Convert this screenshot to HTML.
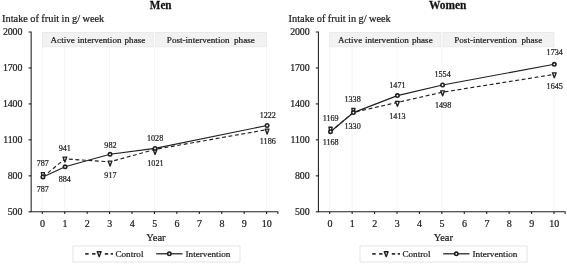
<!DOCTYPE html>
<html><head><meta charset="utf-8"><title>Fruit intake</title>
<style>
html,body{margin:0;padding:0;background:#fff}
svg{display:block}
.t{font-family:"Liberation Serif",serif;fill:#1c1c1c;stroke:#1c1c1c;stroke-width:0.22px}
.b{font-weight:bold;fill:#111}
</style></head><body>
<svg width="567" height="264" viewBox="0 0 567 264">
<rect width="567" height="264" fill="#fff"/>
<g><text transform="translate(160.7 9.4) scale(1.0 1.16)" class="t b" text-anchor="middle" font-size="11.2">Men</text>
<text transform="translate(2.0 21.9) scale(1 1.06)" class="t" font-size="10.4" word-spacing="-0.25">Intake of fruit in g/ week</text>
<line x1="42.30" y1="47.0" x2="42.30" y2="211.8" stroke="#f3f3f3" stroke-width="0.8"/>
<line x1="64.73" y1="47.0" x2="64.73" y2="211.8" stroke="#f3f3f3" stroke-width="0.8"/>
<line x1="109.59" y1="47.0" x2="109.59" y2="211.8" stroke="#f3f3f3" stroke-width="0.8"/>
<line x1="154.45" y1="47.0" x2="154.45" y2="211.8" stroke="#f3f3f3" stroke-width="0.8"/>
<line x1="266.60" y1="47.0" x2="266.60" y2="211.8" stroke="#f3f3f3" stroke-width="0.8"/>
<rect x="42.30" y="32.3" width="111.25" height="14.6" fill="#f2f2f2" stroke="#e3e3e3" stroke-width="0.6"/>
<rect x="155.55" y="32.3" width="111.05" height="14.6" fill="#f2f2f2" stroke="#e3e3e3" stroke-width="0.6"/>
<text x="97.92" y="42.6" class="t" text-anchor="middle" font-size="9.1" word-spacing="0.5">Active intervention<tspan dx="0.3"> phase</tspan></text>
<text x="210.83" y="42.6" class="t" text-anchor="middle" font-size="9.1" word-spacing="2.3">Post-intervention phase</text>
<path d="M28.55 32.0H31.15V211.8H277.88V214.10" fill="none" stroke="#1f1f1f" stroke-width="1.05"/>
<line x1="28.55" y1="67.96" x2="31.15" y2="67.96" stroke="#1f1f1f" stroke-width="1.1"/>
<line x1="28.55" y1="103.92" x2="31.15" y2="103.92" stroke="#1f1f1f" stroke-width="1.1"/>
<line x1="28.55" y1="139.88" x2="31.15" y2="139.88" stroke="#1f1f1f" stroke-width="1.1"/>
<line x1="28.55" y1="175.84" x2="31.15" y2="175.84" stroke="#1f1f1f" stroke-width="1.1"/>
<line x1="28.55" y1="211.80" x2="31.15" y2="211.80" stroke="#1f1f1f" stroke-width="1.1"/>
<line x1="42.30" y1="211.8" x2="42.30" y2="214.10" stroke="#1f1f1f" stroke-width="1.1"/>
<line x1="64.73" y1="211.8" x2="64.73" y2="214.10" stroke="#1f1f1f" stroke-width="1.1"/>
<line x1="87.16" y1="211.8" x2="87.16" y2="214.10" stroke="#1f1f1f" stroke-width="1.1"/>
<line x1="109.59" y1="211.8" x2="109.59" y2="214.10" stroke="#1f1f1f" stroke-width="1.1"/>
<line x1="132.02" y1="211.8" x2="132.02" y2="214.10" stroke="#1f1f1f" stroke-width="1.1"/>
<line x1="154.45" y1="211.8" x2="154.45" y2="214.10" stroke="#1f1f1f" stroke-width="1.1"/>
<line x1="176.88" y1="211.8" x2="176.88" y2="214.10" stroke="#1f1f1f" stroke-width="1.1"/>
<line x1="199.31" y1="211.8" x2="199.31" y2="214.10" stroke="#1f1f1f" stroke-width="1.1"/>
<line x1="221.74" y1="211.8" x2="221.74" y2="214.10" stroke="#1f1f1f" stroke-width="1.1"/>
<line x1="244.17" y1="211.8" x2="244.17" y2="214.10" stroke="#1f1f1f" stroke-width="1.1"/>
<line x1="266.60" y1="211.8" x2="266.60" y2="214.10" stroke="#1f1f1f" stroke-width="1.1"/>
<text x="22.25" y="35.00" class="t" text-anchor="end" font-size="9.9" letter-spacing="-0.1">2000</text>
<text x="22.25" y="70.96" class="t" text-anchor="end" font-size="9.9" letter-spacing="-0.1">1700</text>
<text x="22.25" y="106.92" class="t" text-anchor="end" font-size="9.9" letter-spacing="-0.1">1400</text>
<text x="22.25" y="142.88" class="t" text-anchor="end" font-size="9.9" letter-spacing="-0.1">1100</text>
<text x="22.25" y="178.84" class="t" text-anchor="end" font-size="9.9" letter-spacing="-0.1">800</text>
<text x="22.25" y="214.80" class="t" text-anchor="end" font-size="9.9" letter-spacing="-0.1">500</text>
<text x="42.50" y="227.4" class="t" text-anchor="middle" font-size="10">0</text>
<text x="64.93" y="227.4" class="t" text-anchor="middle" font-size="10">1</text>
<text x="87.36" y="227.4" class="t" text-anchor="middle" font-size="10">2</text>
<text x="109.79" y="227.4" class="t" text-anchor="middle" font-size="10">3</text>
<text x="132.22" y="227.4" class="t" text-anchor="middle" font-size="10">4</text>
<text x="154.65" y="227.4" class="t" text-anchor="middle" font-size="10">5</text>
<text x="177.08" y="227.4" class="t" text-anchor="middle" font-size="10">6</text>
<text x="199.51" y="227.4" class="t" text-anchor="middle" font-size="10">7</text>
<text x="221.94" y="227.4" class="t" text-anchor="middle" font-size="10">8</text>
<text x="244.37" y="227.4" class="t" text-anchor="middle" font-size="10">9</text>
<text x="266.80" y="227.4" class="t" text-anchor="middle" font-size="10">10</text>
<text x="155.95" y="240.6" class="t" text-anchor="middle" font-size="10.5">Year</text>
<polyline points="42.90,177.00 64.90,158.90 110.05,161.80 155.05,149.40 267.10,129.60" fill="none" stroke="#1f1f1f" stroke-width="1.15" stroke-dasharray="3.9 2.6"/>
<polyline points="42.90,176.90 65.10,166.80 110.05,154.30 155.05,148.40 267.10,125.50" fill="none" stroke="#1f1f1f" stroke-width="1.15"/>
<path d="M41.30 172.60H44.50L43.80 176.00H42.00Z" fill="#fff" stroke="#1f1f1f" stroke-width="1.35" stroke-linejoin="round"/>
<path d="M63.00 157.10H66.80L64.90 162.00Z" fill="#fff" stroke="#1f1f1f" stroke-width="1.35" stroke-linejoin="round"/>
<path d="M108.15 161.10H111.95L110.05 166.00Z" fill="#fff" stroke="#1f1f1f" stroke-width="1.35" stroke-linejoin="round"/>
<path d="M153.15 149.50H156.95L155.05 154.40Z" fill="#fff" stroke="#1f1f1f" stroke-width="1.35" stroke-linejoin="round"/>
<path d="M265.20 129.10H269.00L267.10 134.00Z" fill="#fff" stroke="#1f1f1f" stroke-width="1.35" stroke-linejoin="round"/>
<circle cx="42.90" cy="176.90" r="1.7" fill="#fff" stroke="#1f1f1f" stroke-width="1.6"/>
<circle cx="65.10" cy="166.80" r="1.7" fill="#fff" stroke="#1f1f1f" stroke-width="1.6"/>
<circle cx="110.05" cy="154.30" r="1.7" fill="#fff" stroke="#1f1f1f" stroke-width="1.6"/>
<circle cx="155.05" cy="148.40" r="1.7" fill="#fff" stroke="#1f1f1f" stroke-width="1.6"/>
<circle cx="267.10" cy="125.50" r="1.7" fill="#fff" stroke="#1f1f1f" stroke-width="1.6"/>
<text x="42.8" y="165.90" class="t" text-anchor="middle" font-size="8.1">787</text>
<text x="42.8" y="191.60" class="t" text-anchor="middle" font-size="8.1">787</text>
<text x="64.8" y="151.30" class="t" text-anchor="middle" font-size="8.1">941</text>
<text x="64.8" y="181.80" class="t" text-anchor="middle" font-size="8.1">884</text>
<text x="110.4" y="147.70" class="t" text-anchor="middle" font-size="8.1">982</text>
<text x="110.4" y="177.80" class="t" text-anchor="middle" font-size="8.1">917</text>
<text x="155.1" y="141.30" class="t" text-anchor="middle" font-size="8.1">1028</text>
<text x="155.4" y="166.40" class="t" text-anchor="middle" font-size="8.1">1021</text>
<text x="267.8" y="118.20" class="t" text-anchor="middle" font-size="8.1">1222</text>
<text x="267.8" y="143.80" class="t" text-anchor="middle" font-size="8.1">1186</text>
<rect x="73.00" y="246.0" width="167" height="16" fill="#fff" stroke="#dedede" stroke-width="0.8"/>
<line x1="85.20" y1="253.9" x2="88.70" y2="253.9" stroke="#1f1f1f" stroke-width="1.6"/>
<line x1="92.10" y1="253.9" x2="95.50" y2="253.9" stroke="#1f1f1f" stroke-width="1.6"/>
<line x1="104.80" y1="253.9" x2="108.20" y2="253.9" stroke="#1f1f1f" stroke-width="1.6"/>
<line x1="110.70" y1="253.9" x2="113.00" y2="253.9" stroke="#1f1f1f" stroke-width="1.6"/>
<path d="M97.30 251.75H101.10L99.20 256.65Z" fill="#fff" stroke="#1f1f1f" stroke-width="1.35" stroke-linejoin="round"/>
<text x="115.40" y="257.0" class="t" font-size="9.2">Control</text>
<line x1="156.20" y1="253.8" x2="182.50" y2="253.8" stroke="#1f1f1f" stroke-width="1.25"/>
<circle cx="169.30" cy="253.80" r="1.7" fill="#fff" stroke="#1f1f1f" stroke-width="1.6"/>
<text x="185.50" y="257.0" class="t" font-size="9.2">Intervention</text></g>
<g><text transform="translate(447.75 9.4) scale(1.02 1.16)" class="t b" text-anchor="middle" font-size="11.2">Women</text>
<text transform="translate(288.5 21.9) scale(1 1.06)" class="t" font-size="10.4" word-spacing="-0.25">Intake of fruit in g/ week</text>
<line x1="329.70" y1="47.0" x2="329.70" y2="211.8" stroke="#f3f3f3" stroke-width="0.8"/>
<line x1="352.13" y1="47.0" x2="352.13" y2="211.8" stroke="#f3f3f3" stroke-width="0.8"/>
<line x1="396.99" y1="47.0" x2="396.99" y2="211.8" stroke="#f3f3f3" stroke-width="0.8"/>
<line x1="441.85" y1="47.0" x2="441.85" y2="211.8" stroke="#f3f3f3" stroke-width="0.8"/>
<line x1="554.00" y1="47.0" x2="554.00" y2="211.8" stroke="#f3f3f3" stroke-width="0.8"/>
<rect x="329.70" y="32.3" width="111.25" height="14.6" fill="#f2f2f2" stroke="#e3e3e3" stroke-width="0.6"/>
<rect x="442.95" y="32.3" width="111.05" height="14.6" fill="#f2f2f2" stroke="#e3e3e3" stroke-width="0.6"/>
<text x="385.32" y="42.6" class="t" text-anchor="middle" font-size="9.1" word-spacing="0.5">Active intervention<tspan dx="0.3"> phase</tspan></text>
<text x="498.23" y="42.6" class="t" text-anchor="middle" font-size="9.1" word-spacing="2.3">Post-intervention phase</text>
<path d="M315.80 32.0H318.4V211.8H565.13V214.10" fill="none" stroke="#1f1f1f" stroke-width="1.05"/>
<line x1="315.80" y1="67.96" x2="318.4" y2="67.96" stroke="#1f1f1f" stroke-width="1.1"/>
<line x1="315.80" y1="103.92" x2="318.4" y2="103.92" stroke="#1f1f1f" stroke-width="1.1"/>
<line x1="315.80" y1="139.88" x2="318.4" y2="139.88" stroke="#1f1f1f" stroke-width="1.1"/>
<line x1="315.80" y1="175.84" x2="318.4" y2="175.84" stroke="#1f1f1f" stroke-width="1.1"/>
<line x1="315.80" y1="211.80" x2="318.4" y2="211.80" stroke="#1f1f1f" stroke-width="1.1"/>
<line x1="329.70" y1="211.8" x2="329.70" y2="214.10" stroke="#1f1f1f" stroke-width="1.1"/>
<line x1="352.13" y1="211.8" x2="352.13" y2="214.10" stroke="#1f1f1f" stroke-width="1.1"/>
<line x1="374.56" y1="211.8" x2="374.56" y2="214.10" stroke="#1f1f1f" stroke-width="1.1"/>
<line x1="396.99" y1="211.8" x2="396.99" y2="214.10" stroke="#1f1f1f" stroke-width="1.1"/>
<line x1="419.42" y1="211.8" x2="419.42" y2="214.10" stroke="#1f1f1f" stroke-width="1.1"/>
<line x1="441.85" y1="211.8" x2="441.85" y2="214.10" stroke="#1f1f1f" stroke-width="1.1"/>
<line x1="464.28" y1="211.8" x2="464.28" y2="214.10" stroke="#1f1f1f" stroke-width="1.1"/>
<line x1="486.71" y1="211.8" x2="486.71" y2="214.10" stroke="#1f1f1f" stroke-width="1.1"/>
<line x1="509.14" y1="211.8" x2="509.14" y2="214.10" stroke="#1f1f1f" stroke-width="1.1"/>
<line x1="531.57" y1="211.8" x2="531.57" y2="214.10" stroke="#1f1f1f" stroke-width="1.1"/>
<line x1="554.00" y1="211.8" x2="554.00" y2="214.10" stroke="#1f1f1f" stroke-width="1.1"/>
<text x="309.5" y="35.00" class="t" text-anchor="end" font-size="9.9" letter-spacing="-0.1">2000</text>
<text x="309.5" y="70.96" class="t" text-anchor="end" font-size="9.9" letter-spacing="-0.1">1700</text>
<text x="309.5" y="106.92" class="t" text-anchor="end" font-size="9.9" letter-spacing="-0.1">1400</text>
<text x="309.5" y="142.88" class="t" text-anchor="end" font-size="9.9" letter-spacing="-0.1">1100</text>
<text x="309.5" y="178.84" class="t" text-anchor="end" font-size="9.9" letter-spacing="-0.1">800</text>
<text x="309.5" y="214.80" class="t" text-anchor="end" font-size="9.9" letter-spacing="-0.1">500</text>
<text x="329.90" y="227.4" class="t" text-anchor="middle" font-size="10">0</text>
<text x="352.33" y="227.4" class="t" text-anchor="middle" font-size="10">1</text>
<text x="374.76" y="227.4" class="t" text-anchor="middle" font-size="10">2</text>
<text x="397.19" y="227.4" class="t" text-anchor="middle" font-size="10">3</text>
<text x="419.62" y="227.4" class="t" text-anchor="middle" font-size="10">4</text>
<text x="442.05" y="227.4" class="t" text-anchor="middle" font-size="10">5</text>
<text x="464.48" y="227.4" class="t" text-anchor="middle" font-size="10">6</text>
<text x="486.91" y="227.4" class="t" text-anchor="middle" font-size="10">7</text>
<text x="509.34" y="227.4" class="t" text-anchor="middle" font-size="10">8</text>
<text x="531.77" y="227.4" class="t" text-anchor="middle" font-size="10">9</text>
<text x="554.20" y="227.4" class="t" text-anchor="middle" font-size="10">10</text>
<text x="443.35" y="240.6" class="t" text-anchor="middle" font-size="10.5">Year</text>
<polyline points="330.50,131.70 353.40,112.40 397.40,102.40 442.60,92.20 554.30,74.40" fill="none" stroke="#1f1f1f" stroke-width="1.15" stroke-dasharray="3.9 2.6"/>
<polyline points="330.50,131.70 353.40,112.60 397.40,95.60 442.60,85.00 554.30,64.30" fill="none" stroke="#1f1f1f" stroke-width="1.15"/>
<path d="M328.90 127.20H332.10L331.40 130.60H329.60Z" fill="#fff" stroke="#1f1f1f" stroke-width="1.35" stroke-linejoin="round"/>
<path d="M351.80 108.50H355.00L354.30 111.90H352.50Z" fill="#fff" stroke="#1f1f1f" stroke-width="1.35" stroke-linejoin="round"/>
<path d="M395.50 101.40H399.30L397.40 106.30Z" fill="#fff" stroke="#1f1f1f" stroke-width="1.35" stroke-linejoin="round"/>
<path d="M440.70 90.90H444.50L442.60 95.80Z" fill="#fff" stroke="#1f1f1f" stroke-width="1.35" stroke-linejoin="round"/>
<path d="M552.40 72.80H556.20L554.30 77.70Z" fill="#fff" stroke="#1f1f1f" stroke-width="1.35" stroke-linejoin="round"/>
<circle cx="330.50" cy="131.70" r="1.7" fill="#fff" stroke="#1f1f1f" stroke-width="1.6"/>
<circle cx="353.40" cy="112.60" r="1.7" fill="#fff" stroke="#1f1f1f" stroke-width="1.6"/>
<circle cx="397.40" cy="95.60" r="1.7" fill="#fff" stroke="#1f1f1f" stroke-width="1.6"/>
<circle cx="442.60" cy="85.00" r="1.7" fill="#fff" stroke="#1f1f1f" stroke-width="1.6"/>
<circle cx="554.30" cy="64.30" r="1.7" fill="#fff" stroke="#1f1f1f" stroke-width="1.6"/>
<text x="330.6" y="120.90" class="t" text-anchor="middle" font-size="8.1">1169</text>
<text x="330.6" y="145.30" class="t" text-anchor="middle" font-size="8.1">1168</text>
<text x="352.6" y="102.30" class="t" text-anchor="middle" font-size="8.1">1338</text>
<text x="352.6" y="129.40" class="t" text-anchor="middle" font-size="8.1">1330</text>
<text x="397.4" y="87.50" class="t" text-anchor="middle" font-size="8.1">1471</text>
<text x="397.4" y="118.80" class="t" text-anchor="middle" font-size="8.1">1413</text>
<text x="442.6" y="77.10" class="t" text-anchor="middle" font-size="8.1">1554</text>
<text x="443.1" y="107.70" class="t" text-anchor="middle" font-size="8.1">1498</text>
<text x="554.7" y="55.20" class="t" text-anchor="middle" font-size="8.1">1734</text>
<text x="554.7" y="88.90" class="t" text-anchor="middle" font-size="8.1">1645</text>
<rect x="360.00" y="246.0" width="167" height="16" fill="#fff" stroke="#dedede" stroke-width="0.8"/>
<line x1="372.20" y1="253.9" x2="375.70" y2="253.9" stroke="#1f1f1f" stroke-width="1.6"/>
<line x1="379.10" y1="253.9" x2="382.50" y2="253.9" stroke="#1f1f1f" stroke-width="1.6"/>
<line x1="391.80" y1="253.9" x2="395.20" y2="253.9" stroke="#1f1f1f" stroke-width="1.6"/>
<line x1="397.70" y1="253.9" x2="400.00" y2="253.9" stroke="#1f1f1f" stroke-width="1.6"/>
<path d="M384.30 251.75H388.10L386.20 256.65Z" fill="#fff" stroke="#1f1f1f" stroke-width="1.35" stroke-linejoin="round"/>
<text x="402.40" y="257.0" class="t" font-size="9.2">Control</text>
<line x1="443.20" y1="253.8" x2="469.50" y2="253.8" stroke="#1f1f1f" stroke-width="1.25"/>
<circle cx="456.30" cy="253.80" r="1.7" fill="#fff" stroke="#1f1f1f" stroke-width="1.6"/>
<text x="472.50" y="257.0" class="t" font-size="9.2">Intervention</text></g>
</svg>
</body></html>
